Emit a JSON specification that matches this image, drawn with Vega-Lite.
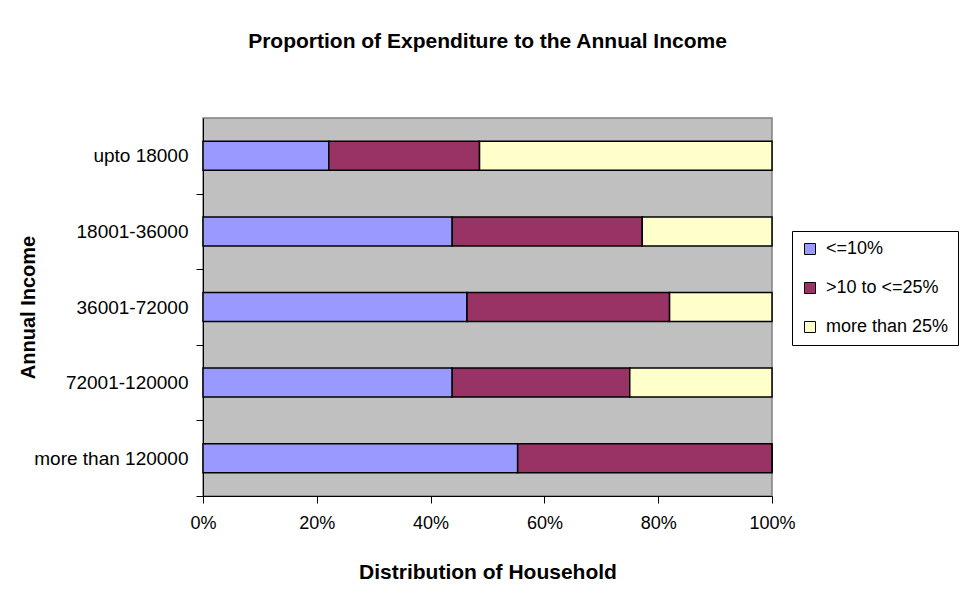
{
  "$schema": "https://vega.github.io/schema/vega-lite/v6.json",
  "autosize": "none",
  "width": 569,
  "height": 378,
  "padding": {"left": 203, "top": 118, "right": 199, "bottom": 93},
  "background": "white",
  "title": {
    "text": "Proportion of Expenditure to the Annual Income",
    "font": "Liberation Sans",
    "fontSize": 21,
    "fontWeight": "bold",
    "color": "black",
    "anchor": "middle",
    "offset": 66
  },
  "data": {
    "values": [
      {"income": "upto 18000", "share": "<=10%", "k": 1, "p": 0.221},
      {"income": "upto 18000", "share": ">10 to <=25%", "k": 2, "p": 0.265},
      {"income": "upto 18000", "share": "more than 25%", "k": 3, "p": 0.514},
      {"income": "18001-36000", "share": "<=10%", "k": 1, "p": 0.438},
      {"income": "18001-36000", "share": ">10 to <=25%", "k": 2, "p": 0.334},
      {"income": "18001-36000", "share": "more than 25%", "k": 3, "p": 0.228},
      {"income": "36001-72000", "share": "<=10%", "k": 1, "p": 0.464},
      {"income": "36001-72000", "share": ">10 to <=25%", "k": 2, "p": 0.356},
      {"income": "36001-72000", "share": "more than 25%", "k": 3, "p": 0.180},
      {"income": "72001-120000", "share": "<=10%", "k": 1, "p": 0.438},
      {"income": "72001-120000", "share": ">10 to <=25%", "k": 2, "p": 0.312},
      {"income": "72001-120000", "share": "more than 25%", "k": 3, "p": 0.250},
      {"income": "more than 120000", "share": "<=10%", "k": 1, "p": 0.553},
      {"income": "more than 120000", "share": ">10 to <=25%", "k": 2, "p": 0.447},
      {"income": "more than 120000", "share": "more than 25%", "k": 3, "p": 0.0}
    ]
  },
  "mark": {"type": "bar", "stroke": "black", "strokeWidth": 1.5},
  "encoding": {
    "y": {
      "field": "income",
      "type": "nominal",
      "sort": ["upto 18000", "18001-36000", "36001-72000", "72001-120000", "more than 120000"],
      "scale": {"paddingInner": 0.616, "paddingOuter": 0.308},
      "axis": {
        "title": "Annual Income",
        "titleFont": "Liberation Sans",
        "titleFontSize": 20,
        "titleFontWeight": "bold",
        "titleColor": "black",
        "titleX": -175,
        "titleY": 189,
        "titleBaseline": "middle",
        "titleAngle": 270,
        "labelFont": "Liberation Sans",
        "labelFontSize": 19,
        "labelColor": "black",
        "labelPadding": 8,
        "labelOffset": -37.8,
        "tickSize": 7,
        "tickColor": "black",
        "tickOffset": 37.8,
        "domainColor": "black",
        "grid": false
      }
    },
    "x": {
      "field": "p",
      "type": "quantitative",
      "stack": "zero",
      "scale": {"domain": [0, 1], "nice": false},
      "axis": {
        "title": "Distribution of Household",
        "titleFont": "Liberation Sans",
        "titleFontSize": 21,
        "titleFontWeight": "bold",
        "titleColor": "black",
        "titlePadding": 29,
        "format": ".0%",
        "values": [0, 0.2, 0.4, 0.6, 0.8, 1],
        "labelFont": "Liberation Sans",
        "labelFontSize": 18,
        "labelColor": "black",
        "labelPadding": 11,
        "labelFlush": false,
        "tickSize": 7,
        "tickColor": "black",
        "domainColor": "black",
        "grid": false
      }
    },
    "order": {"field": "k", "type": "quantitative"},
    "color": {
      "field": "share",
      "type": "nominal",
      "sort": ["<=10%", ">10 to <=25%", "more than 25%"],
      "scale": {"domain": ["<=10%", ">10 to <=25%", "more than 25%"], "range": ["#9999FF", "#993366", "#FFFFCC"]},
      "legend": {
        "title": null,
        "orient": "none",
        "legendX": 589,
        "legendY": 113,
        "fillColor": "white",
        "strokeColor": "black",
        "padding": 9,
        "symbolType": "square",
        "symbolSize": 121,
        "symbolStrokeColor": "black",
        "symbolStrokeWidth": 1,
        "symbolOpacity": 1,
        "labelFont": "Liberation Sans",
        "labelFontSize": 18,
        "labelColor": "black",
        "labelOffset": 7,
        "rowPadding": 21,
        "labelLimit": 300
      }
    }
  },
  "config": {
    "view": {"fill": "#C0C0C0", "stroke": "#808080", "strokeWidth": 1.5}
  }
}
